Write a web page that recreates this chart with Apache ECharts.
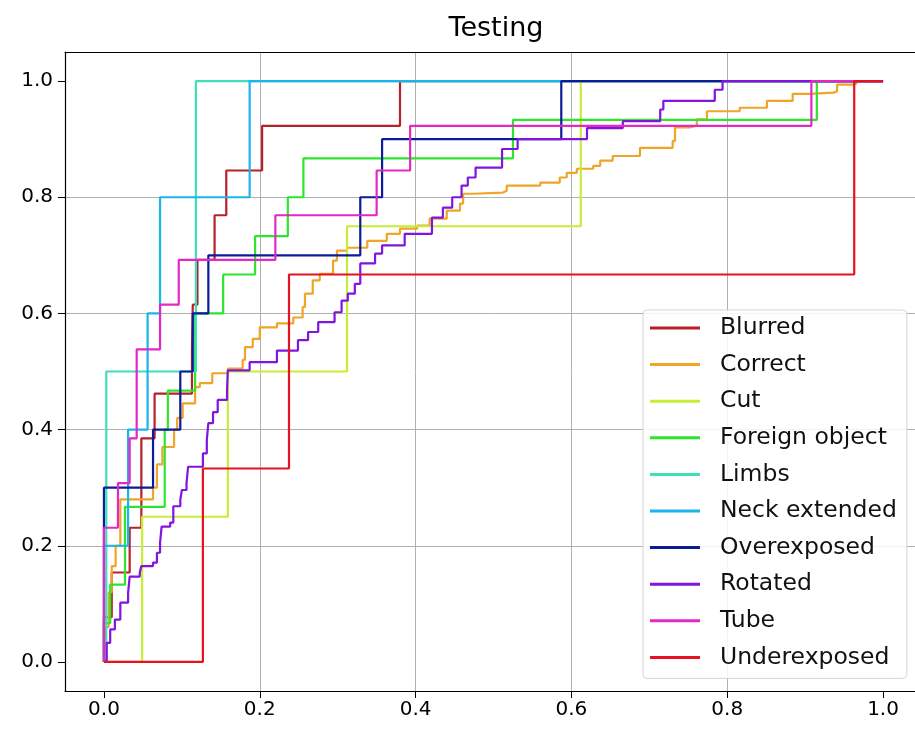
<!DOCTYPE html>
<html><head><meta charset="utf-8">
<script src="https://cdn.jsdelivr.net/npm/echarts@6/dist/echarts.min.js"></script>
<style>html,body{margin:0;padding:0;background:#fff;overflow:hidden}#c{width:915px;height:731px}</style>
</head><body><div id="c"></div>
<script>
// Each curve: ROC points [fpr, tpr] at the top of every riser (drawn as steps)
const blurred = [[0,0],[0,0.077],[0.01,0.154],[0.033,0.231],[0.048,0.385],[0.065,0.462],[0.113,0.538],[0.114,0.615],[0.12,0.692],[0.142,0.769],[0.157,0.846],[0.203,0.923],[0.38,1],[1,1]];
const correct = [[0,0],[0.002,0.06],[0.006,0.12],[0.01,0.165],[0.015,0.2],[0.021,0.28],[0.063,0.3],[0.068,0.34],[0.075,0.37],[0.09,0.4],[0.094,0.42],[0.101,0.445],[0.117,0.473],[0.123,0.48],[0.139,0.497],[0.159,0.505],[0.178,0.52],[0.181,0.542],[0.191,0.556],[0.2,0.576],[0.222,0.583],[0.243,0.593],[0.255,0.611],[0.258,0.634],[0.268,0.657],[0.277,0.668],[0.294,0.691],[0.299,0.708],[0.312,0.713],[0.338,0.725],[0.363,0.737],[0.38,0.746],[0.402,0.751],[0.418,0.763],[0.44,0.777],[0.457,0.789],[0.461,0.806],[0.474,0.808],[0.512,0.811],[0.517,0.82],[0.56,0.825],[0.585,0.834],[0.594,0.842],[0.607,0.849],[0.628,0.854],[0.637,0.863],[0.653,0.871],[0.688,0.885],[0.73,0.897],[0.733,0.92],[0.752,0.923],[0.761,0.934],[0.774,0.948],[0.816,0.954],[0.851,0.966],[0.884,0.978],[0.906,0.98],[0.936,0.982],[0.941,0.994],[0.962,0.996],[0.966,1],[1,1]];
const cut = [[0,0],[0.049,0.25],[0.159,0.5],[0.312,0.75],[0.612,1],[1,1]];
const foreignObject = [[0,0],[0,0.067],[0.008,0.133],[0.027,0.267],[0.078,0.4],[0.082,0.467],[0.117,0.6],[0.153,0.667],[0.194,0.733],[0.236,0.8],[0.256,0.867],[0.525,0.933],[0.915,1],[1,1]];
const limbs = [[0,0],[0.003,0.5],[0.118,1],[1,1]];
const neckExtended = [[0,0],[0,0.2],[0.031,0.4],[0.056,0.6],[0.072,0.8],[0.187,1],[1,1]];
const overexposed = [[0,0],[0,0.3],[0.063,0.4],[0.098,0.5],[0.114,0.6],[0.134,0.7],[0.329,0.8],[0.357,0.9],[0.587,1],[1,1]];
const rotated = [[0,0],[0.0035,0.033],[0.008,0.056],[0.014,0.073],[0.021,0.102],[0.031,0.119],[0.033,0.147],[0.046,0.154],[0.048,0.165],[0.063,0.171],[0.068,0.188],[0.072,0.205],[0.074,0.233],[0.085,0.24],[0.089,0.268],[0.098,0.279],[0.1,0.296],[0.106,0.308],[0.108,0.336],[0.127,0.359],[0.132,0.382],[0.134,0.411],[0.14,0.43],[0.146,0.451],[0.158,0.468],[0.159,0.502],[0.187,0.516],[0.222,0.536],[0.249,0.554],[0.262,0.568],[0.275,0.585],[0.296,0.602],[0.305,0.622],[0.313,0.634],[0.322,0.651],[0.329,0.686],[0.348,0.703],[0.357,0.717],[0.386,0.737],[0.421,0.765],[0.435,0.782],[0.447,0.8],[0.459,0.82],[0.467,0.834],[0.477,0.851],[0.511,0.883],[0.531,0.9],[0.62,0.919],[0.666,0.931],[0.714,0.951],[0.718,0.966],[0.784,0.985],[0.794,1],[1,1]];
const tube = [[0,0],[0,0.231],[0.018,0.308],[0.033,0.385],[0.042,0.538],[0.072,0.615],[0.096,0.692],[0.22,0.769],[0.35,0.846],[0.393,0.923],[0.908,1],[1,1]];
const underexposed = [[0,0],[0.127,0.333],[0.2375,0.667],[0.963,1],[1,1]];

const seriesNames = ['Blurred','Correct','Cut','Foreign object','Limbs','Neck extended','Overexposed','Rotated','Tube','Underexposed'];
const seriesData = [blurred, correct, cut, foreignObject, limbs, neckExtended, overexposed, rotated, tube, underexposed];
const seriesColors = ['#b8202c','#f0a428','#c6ee34','#2ee52e','#3ee0b8','#1cb4ec','#0c1c98','#8214e0','#e428c4','#e41222'];
const xTicks = [0, 0.2, 0.4, 0.6, 0.8, 1.0];
const yTicks = [0, 0.2, 0.4, 0.6, 0.8, 1.0];

const FONT = 'DejaVu Sans';
const chart = echarts.init(document.getElementById('c'), null, {renderer: 'canvas'});
const spine = {show: true, onZero: false, lineStyle: {color: '#000', width: 1.2}};
const axisCommon = (ticks) => ({
  type: 'value', min: -0.05, max: 1.05,
  axisLine: spine,
  axisTick: {show: true, customValues: ticks, length: 7, lineStyle: {color: '#000', width: 1}},
  axisLabel: {customValues: ticks, formatter: v => v.toFixed(1), fontSize: 20, color: '#000', fontFamily: FONT},
  splitLine: {show: true, showMinLine: false, showMaxLine: false, lineStyle: {color: '#b0b0b0', width: 1}}
});
const xAxis = axisCommon(xTicks); xAxis.axisLabel.margin = 9; xAxis.position = 'bottom';
const yAxis = axisCommon(yTicks); yAxis.axisLabel.margin = 12; yAxis.position = 'left';
const topSpine = {type: 'value', position: 'top', min: -0.05, max: 1.05, axisLine: spine,
  axisTick: {show: false}, axisLabel: {show: false}, splitLine: {show: false}};

chart.setOption({
  animation: false,
  graphic: [{type: 'text', x: 496, y: 29, style: {text: 'Testing', fontSize: 27, fontFamily: FONT, fill: '#000', align: 'center', verticalAlign: 'middle'}}],
  grid: {left: 65, top: 52, width: 857, height: 639, show: false, outerBoundsMode: 'none', containLabel: false},
  xAxis: [xAxis, topSpine],
  yAxis: yAxis,
  legend: {
    orient: 'vertical', left: 643, top: 310, icon: 'rect', itemWidth: 50, itemHeight: 3, itemGap: 12.6,
    padding: [6, 10, 9, 7], borderColor: '#d4d4d4', borderWidth: 1, borderRadius: 4,
    backgroundColor: 'rgba(255,255,255,0.85)',
    textStyle: {fontSize: 23.5, fontFamily: FONT, color: '#111', lineHeight: 24, padding: [0, 0, 0, 15]},
    data: seriesNames
  },
  series: seriesNames.map((n, i) => ({
    name: n, type: 'line', data: seriesData[i], step: 'end', symbol: 'none', xAxisIndex: 0,
    lineStyle: {width: 2.2, color: seriesColors[i]}, itemStyle: {color: seriesColors[i]},
    emphasis: {disabled: true}, silent: true
  }))
});
</script></body></html>
